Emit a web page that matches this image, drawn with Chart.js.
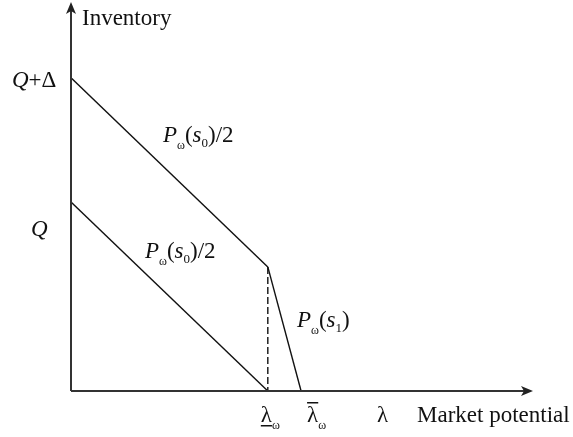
<!DOCTYPE html>
<html>
<head>
<meta charset="utf-8">
<script src="https://cdn.jsdelivr.net/npm/chart.js@4"></script>
<style>
  body { margin: 0; background: #fff; }
</style>
</head>
<body>
<canvas id="myChart" width="573" height="437"></canvas>
<script>
// values, axes run 0..100 in both directions
const lambdaW = 42.6;      // λ_ω
const lambdaBar = 49.8;    // λ̄_ω
const qDelta = 80.5;       // Q+Δ
const q = 48.6;            // Q
const kink = 31.9;         // where the upper line meets the dashed line

const upperX = [0, lambdaW];
const upperY = [qDelta, kink];
const lowerX = [0, lambdaW];
const lowerY = [q, 0];
const steepX = [lambdaW, lambdaBar];
const steepY = [kink, 0];
const dashX = [lambdaW, lambdaW];
const dashY = [kink, 0];

const SERIF = '"Liberation Serif", "Times New Roman", serif';

function pts(xs, ys) {
    return xs.map((x, i) => ({ x: x, y: ys[i] }));
}

function line(xs, ys, dash) {
    return {
        data: pts(xs, ys),
        showLine: true,
        borderColor: '#111',
        borderWidth: 1.4,
        borderDash: dash || [],
        pointRadius: 0
    };
}

// draws a row of text pieces (for subscripts)
function runs(ctx, x, y, parts) {
    parts.forEach(p => {
        ctx.font = p.f + ' ' + SERIF;
        ctx.fillText(p.t, x, y + (p.dy || 0));
        x += ctx.measureText(p.t).width;
    });
    return x;
}

function pLabel(sub) {
    return [
        { t: 'P', f: 'italic 23px' },
        { t: 'ω', f: '12px', dy: 7 },
        { t: '(', f: '23px' },
        { t: 's', f: 'italic 23px' },
        { t: sub, f: '13px', dy: 5 }
    ];
}

const axesAndText = {
    id: 'axesAndText',
    afterDraw(chart) {
        const ctx = chart.ctx;
        const xs = chart.scales.x, ys = chart.scales.y;
        const x0 = xs.getPixelForValue(0), y0 = ys.getPixelForValue(0);
        const xEnd = xs.getPixelForValue(100), yEnd = ys.getPixelForValue(100);

        ctx.save();
        ctx.strokeStyle = '#333';
        ctx.fillStyle = '#222';
        ctx.lineWidth = 2;
        ctx.beginPath();
        ctx.moveTo(x0, y0);
        ctx.lineTo(xEnd - 4, y0);
        ctx.moveTo(x0, y0);
        ctx.lineTo(x0, yEnd + 4);
        ctx.stroke();
        // arrow heads
        ctx.beginPath();
        ctx.moveTo(xEnd, y0);
        ctx.lineTo(xEnd - 12, y0 - 5);
        ctx.lineTo(xEnd - 9, y0);
        ctx.lineTo(xEnd - 12, y0 + 5);
        ctx.closePath();
        ctx.fill();
        ctx.beginPath();
        ctx.moveTo(x0, yEnd);
        ctx.lineTo(x0 - 5, yEnd + 12);
        ctx.lineTo(x0, yEnd + 9);
        ctx.lineTo(x0 + 5, yEnd + 12);
        ctx.closePath();
        ctx.fill();

        ctx.fillStyle = '#111';
        ctx.textBaseline = 'alphabetic';
        ctx.textAlign = 'left';

        runs(ctx, 82, 25, [{ t: 'Inventory', f: '23px' }]);

        // y tick labels
        runs(ctx, 12, ys.getPixelForValue(qDelta) + 9, [
            { t: 'Q', f: 'italic 23px' }, { t: '+Δ', f: '23px' }]);
        runs(ctx, 31, ys.getPixelForValue(q) + 34, [{ t: 'Q', f: 'italic 23px' }]);

        // x tick labels
        const base = y0 + 31;
        let lx = xs.getPixelForValue(lambdaW) - 7;
        ctx.font = '23px ' + SERIF;
        const lw = ctx.measureText('λ').width;
        runs(ctx, lx, base, [{ t: 'λ', f: '23px' }, { t: 'ω', f: '12px', dy: 7 }]);
        ctx.fillRect(lx, base + 3, lw, 1.5);

        lx = xs.getPixelForValue(lambdaBar) + 6;
        runs(ctx, lx, base, [{ t: 'λ', f: '23px' }, { t: 'ω', f: '12px', dy: 7 }]);
        ctx.fillRect(lx, base - 20, lw, 1.5);

        runs(ctx, 377, base, [{ t: 'λ', f: '23px' }]);
        runs(ctx, 417, base, [{ t: 'Market potential', f: '23px' }]);

        // curve labels
        let ex = runs(ctx, 163, 142, pLabel('0'));
        runs(ctx, ex, 142, [{ t: ')/2', f: '23px' }]);
        ex = runs(ctx, 145, 258, pLabel('0'));
        runs(ctx, ex, 258, [{ t: ')/2', f: '23px' }]);
        ex = runs(ctx, 297, 327, pLabel('1'));
        runs(ctx, ex, 327, [{ t: ')', f: '23px' }]);
        ctx.restore();
    }
};

new Chart(document.getElementById('myChart'), {
    type: 'scatter',
    data: {
        datasets: [
            line(upperX, upperY),
            line(lowerX, lowerY),
            line(steepX, steepY),
            line(dashX, dashY, [7, 3])
        ]
    },
    options: {
        responsive: false,
        animation: false,
        layout: { padding: { left: 71, right: 40, top: 2, bottom: 46 } },
        scales: {
            x: { type: 'linear', min: 0, max: 100, display: false },
            y: { type: 'linear', min: 0, max: 100, display: false }
        },
        plugins: {
            legend: { display: false },
            tooltip: { enabled: false }
        }
    },
    plugins: [axesAndText]
});
</script>
</body>
</html>
